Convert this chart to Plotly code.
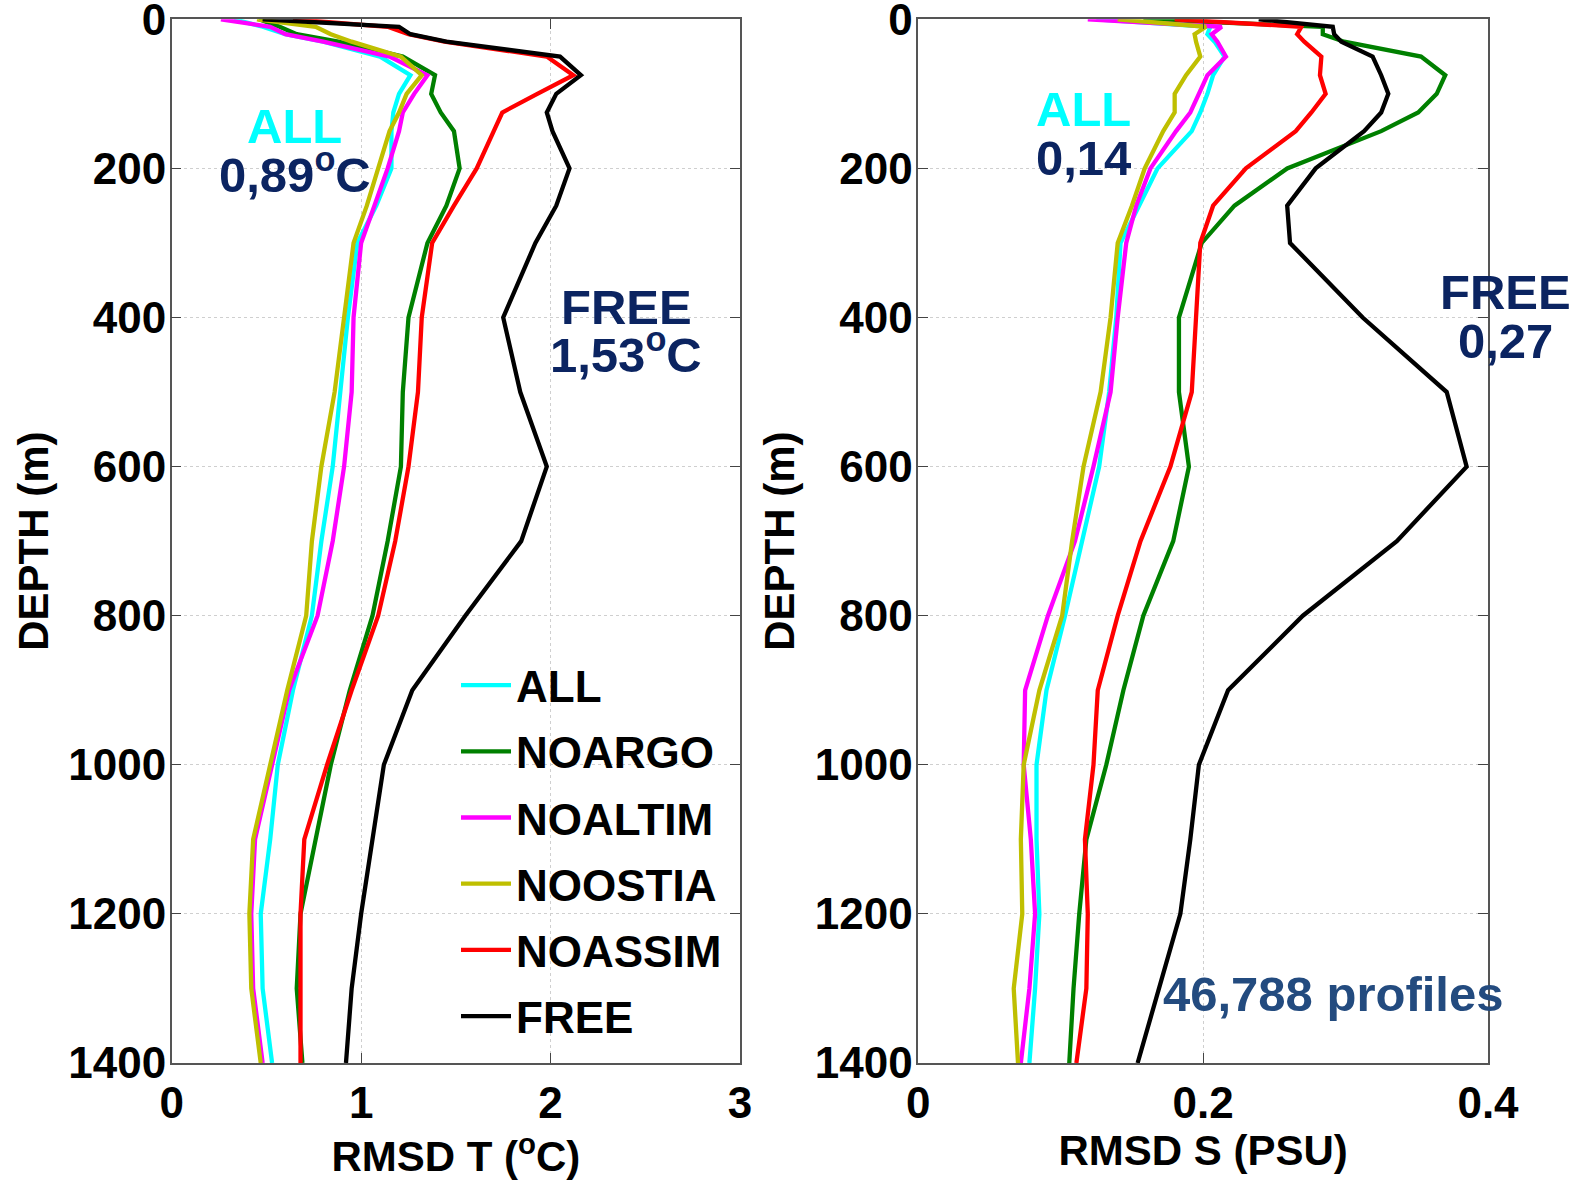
import plotly.graph_objects as go

# Standard depth levels (m)
depth = [0, 10, 20, 30, 50, 75, 100, 125, 150, 200, 250, 300, 400, 500,
         600, 700, 800, 900, 1000, 1100, 1200, 1300, 1400]

experiments = ["ALL", "NOARGO", "NOALTIM", "NOOSTIA", "NOASSIM", "FREE"]
colors = ["#00FFFF", "#008000", "#FF00FF", "#BFBF00", "#FF0000", "#000000"]

# RMSD of temperature (degC) per experiment
rmsd_t_all = [0.33, 0.48, 0.60, 0.80, 1.10, 1.26, 1.20, 1.17, 1.16, 1.16, 1.08, 0.98,
              0.93, 0.89, 0.85, 0.79, 0.74, 0.64, 0.56, 0.52, 0.47, 0.48, 0.53]
rmsd_t_noargo = [0.46, 0.57, 0.66, 0.88, 1.22, 1.39, 1.37, 1.42, 1.49, 1.52, 1.45, 1.35,
                 1.25, 1.22, 1.21, 1.14, 1.06, 0.94, 0.84, 0.76, 0.68, 0.66, 0.69]
rmsd_t_noaltim = [0.26, 0.52, 0.60, 0.80, 1.15, 1.35, 1.28, 1.22, 1.20, 1.14, 1.07, 1.00,
                  0.96, 0.95, 0.91, 0.85, 0.77, 0.62, 0.53, 0.44, 0.42, 0.43, 0.48]
rmsd_t_noostia = [0.45, 0.76, 0.84, 0.95, 1.21, 1.32, 1.24, 1.20, 1.15, 1.09, 1.03, 0.96,
                  0.91, 0.86, 0.79, 0.74, 0.71, 0.61, 0.52, 0.43, 0.41, 0.42, 0.47]
rmsd_t_noassim = [0.64, 1.14, 1.25, 1.44, 1.98, 2.12, 1.93, 1.745, 1.70, 1.61, 1.49, 1.375,
                  1.32, 1.30, 1.25, 1.18, 1.09, 0.95, 0.82, 0.70, 0.68, 0.68, 0.68]
rmsd_t_free = [0.48, 1.20, 1.26, 1.45, 2.05, 2.16, 2.03, 1.98, 2.01, 2.10, 2.03, 1.92,
               1.75, 1.84, 1.98, 1.845, 1.55, 1.27, 1.12, 1.06, 1.00, 0.95, 0.92]

# RMSD of salinity (PSU) per experiment
rmsd_s_all = [0.125, 0.205, 0.203, 0.208, 0.215, 0.207, 0.203, 0.198, 0.192, 0.168, 0.155, 0.142,
              0.139, 0.134, 0.127, 0.115, 0.103, 0.090, 0.083, 0.083, 0.085, 0.082, 0.078]
rmsd_s_noargo = [0.158, 0.284, 0.284, 0.299, 0.353, 0.370, 0.364, 0.351, 0.325, 0.259, 0.222, 0.199,
                 0.183, 0.183, 0.190, 0.179, 0.158, 0.144, 0.132, 0.118, 0.113, 0.109, 0.106]
rmsd_s_noaltim = [0.119, 0.213, 0.206, 0.210, 0.216, 0.203, 0.197, 0.191, 0.181, 0.163, 0.153, 0.146,
                  0.140, 0.135, 0.123, 0.110, 0.091, 0.075, 0.074, 0.079, 0.082, 0.078, 0.072]
rmsd_s_noostia = [0.140, 0.202, 0.194, 0.195, 0.198, 0.188, 0.180, 0.180, 0.172, 0.159, 0.150, 0.140,
                  0.135, 0.128, 0.116, 0.108, 0.101, 0.085, 0.074, 0.072, 0.073, 0.067, 0.070]
rmsd_s_noassim = [0.180, 0.269, 0.266, 0.271, 0.283, 0.282, 0.286, 0.276, 0.265, 0.230, 0.207, 0.198,
                  0.195, 0.192, 0.177, 0.156, 0.140, 0.126, 0.123, 0.117, 0.119, 0.118, 0.111]
rmsd_s_free = [0.239, 0.291, 0.292, 0.297, 0.319, 0.325, 0.330, 0.325, 0.313, 0.279, 0.259, 0.261,
               0.312, 0.371, 0.385, 0.336, 0.270, 0.2175, 0.197, 0.191, 0.184, 0.169, 0.154]

rmsd_t = [rmsd_t_all, rmsd_t_noargo, rmsd_t_noaltim, rmsd_t_noostia, rmsd_t_noassim, rmsd_t_free]
rmsd_s = [rmsd_s_all, rmsd_s_noargo, rmsd_s_noaltim, rmsd_s_noostia, rmsd_s_noassim, rmsd_s_free]

depth_ticks = [0, 200, 400, 600, 800, 1000, 1200, 1400]
t_ticks = [0, 1, 2, 3]
s_ticks = [0, 0.2, 0.4]
s_ticktext = ["0", "0.2", "0.4"]

W, H = 1581, 1182
FONT = "Arial, Liberation Sans, sans-serif"
NAVY = "#0b2461"
LW = 4.3

fig = go.Figure()

for name, col, t_vals, s_vals in zip(experiments, colors, rmsd_t, rmsd_s):
    fig.add_trace(go.Scatter(x=t_vals, y=depth, mode="lines", name=name,
                             legendgroup=name, line=dict(color=col, width=LW),
                             xaxis="x", yaxis="y", showlegend=True))
    fig.add_trace(go.Scatter(x=s_vals, y=depth, mode="lines", name=name,
                             legendgroup=name, line=dict(color=col, width=LW),
                             xaxis="x2", yaxis="y2", showlegend=False))

axis_common = dict(
    showline=True, linecolor="#555555", linewidth=1.5, mirror="ticks",
    ticks="inside", ticklen=10, tickwidth=1.2, tickcolor="#444444",
    showgrid=True, gridcolor="#cfcfcf", griddash="dot", gridwidth=1,
    zeroline=False, automargin=False, ticklabeloverflow="allow",
    tickfont=dict(family=FONT, size=44, color="black", weight="bold"),
)
title_font = dict(family=FONT, size=42, color="black", weight="bold")

y_dom = [1 - 1063 / H, 1 - 19.3 / H]

fig.update_layout(
    width=W, height=H,
    margin=dict(l=0, r=0, t=0, b=0, autoexpand=False),
    paper_bgcolor="white", plot_bgcolor="white",
    showlegend=True,
    xaxis=dict(domain=[171.7 / W, 740 / W], range=[0, 3], tickvals=t_ticks,
               anchor="y", ticklabelstandoff=0,
               title=dict(text="RMSD T (<sup>o</sup>C)", standoff=8, font=title_font),
               **axis_common),
    yaxis=dict(domain=y_dom, range=[1400, 0], tickvals=depth_ticks, anchor="x",
               ticklabelstandoff=-5,
               title=dict(text="DEPTH (m)", standoff=7, font=title_font),
               **axis_common),
    xaxis2=dict(domain=[918.3 / W, 1488 / W], range=[0, 0.4], tickvals=s_ticks,
                ticktext=s_ticktext, anchor="y2", ticklabelstandoff=0,
                title=dict(text="RMSD S (PSU)", standoff=8, font=title_font),
                **axis_common),
    yaxis2=dict(domain=y_dom, range=[1400, 0], tickvals=depth_ticks, anchor="x2",
                ticklabelstandoff=-5,
                title=dict(text="DEPTH (m)", standoff=7, font=title_font),
                **axis_common),
    legend=dict(x=456 / W, y=1 - 650 / H, xanchor="left", yanchor="top",
                bgcolor="rgba(0,0,0,0)", borderwidth=0, tracegroupgap=6,
                itemwidth=50,
                font=dict(family=FONT, size=44, color="black", weight="bold")),
)

ann_font = dict(family=FONT, size=49, weight="bold")
# x positions of the right-panel FREE label sit on the panel border, so they use paper units
annotations = [
    dict(x=0.65, y=143, xref="x", yref="y", text="ALL", color="#00FFFF"),
    dict(x=0.65, y=204, xref="x", yref="y", text="0,89<sup>o</sup>C", color=NAVY),
    dict(x=2.40, y=386, xref="x", yref="y", text="FREE", color=NAVY),
    dict(x=2.40, y=445, xref="x", yref="y", text="1,53<sup>o</sup>C", color=NAVY),
    dict(x=0.116, y=120, xref="x2", yref="y2", text="ALL", color="#00FFFF"),
    dict(x=0.116, y=186, xref="x2", yref="y2", text="0,14", color=NAVY),
    dict(x=1505 / W, y=366, xref="paper", yref="y2", text="FREE", color=NAVY),
    dict(x=1505 / W, y=432, xref="paper", yref="y2", text="0,27", color=NAVY),
    dict(x=0.291, y=1307, xref="x2", yref="y2", text="46,788 profiles", color="#234b7f"),
]
for a in annotations:
    col = a.pop("color")
    fig.add_annotation(**a, showarrow=False, xanchor="center", yanchor="middle",
                       font=dict(color=col, **ann_font))

fig.write_html("out.html")
